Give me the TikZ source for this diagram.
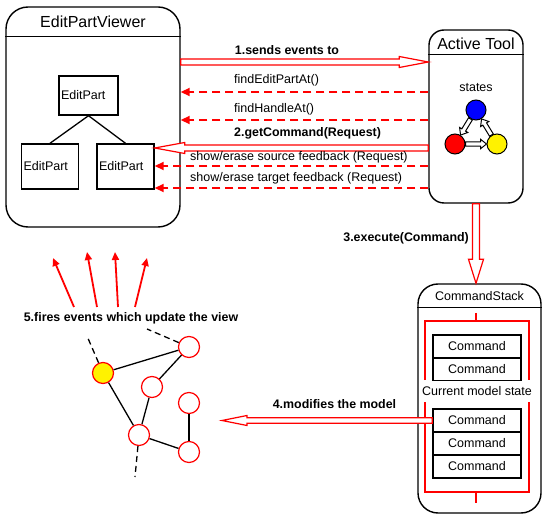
\documentclass[tikz,border=0pt]{standalone}
\usepackage{fontspec}
\setmainfont{Liberation Sans}
\usetikzlibrary{arrows.meta,calc,positioning}
\tikzset{%
	viewbox/.style   = {draw, line width=1.4pt, rounded corners=22pt},
	partbox/.style   = {draw, line width=1.4pt, inner xsep=2pt, text width=53pt, align=left, minimum height=45pt, font=\fontsize{12.5}{14}\selectfont},
	cmdbox/.style    = {draw, line width=1.4pt, minimum width=88pt, minimum height=23pt, font=\fontsize{12.5}{14}\selectfont},
	title/.style     = {inner sep=0pt, font=\fontsize{16}{18}\selectfont},
	txt/.style       = {inner sep=0pt, font=\fontsize{12.5}{14}\selectfont},
	lbl/.style       = {inner sep=0pt, font=\fontsize{12.4}{14}\selectfont\bfseries},
	state/.style     = {draw, circle, line width=1pt, minimum size=20pt, inner sep=0pt},
	gnode/.style     = {draw=red, fill=white, circle, line width=1.2pt, minimum size=21pt, inner sep=0pt},
	edge/.style      = {line width=1.3pt},
	loose/.style     = {line width=1.3pt, dash pattern=on 6pt off 4pt},
	frame/.style     = {red, line width=1.3pt},
	feed/.style      = {red, line width=1.8pt, dash pattern=on 8pt off 5pt, -{Triangle[length=9pt,width=8pt]}},
	firearrow/.style = {red, line width=1.8pt, -{Triangle[length=8pt,width=7pt]}},
	blockarrow/.style n args={3}{draw=red, fill=white, line width=1.2pt, line join=miter,
		to path={let \p1=($(\tikztotarget)!#1!(\tikztostart)$) in
			($(\tikztostart)!#3!90:(\tikztotarget)$) -- ($(\p1)!#3!90:(\tikztotarget)$)
			-- ($(\p1)!#2!90:(\tikztotarget)$) -- (\tikztotarget)
			-- ($(\p1)!#2!-90:(\tikztotarget)$) -- ($(\p1)!#3!-90:(\tikztotarget)$)
			-- ($(\tikztostart)!#3!-90:(\tikztotarget)$) -- cycle}},
}

\begin{document}
\begin{tikzpicture}[x=1pt,y=-1pt]
		\useasboundingbox (0,0) rectangle (549,521);
		
		% viewer with its edit parts
		\node[viewbox, minimum width=174pt, minimum height=220pt] (vw) at (93,117) {};
		\draw[line width=1.4pt] ([yshift=-30pt]vw.north west) -- ([yshift=-30pt]vw.north east);
		\node[title] (vwt) at ([yshift=-15pt]vw.north) {EditPartViewer};
		
		\node[partbox, text width=55pt, minimum height=39pt] (ep1) at (88.5,95.5) {EditPart};
		\node[partbox] (ep2) at (50,166.5) {EditPart};
		\node[partbox] (ep3) at (125.5,166.5) {EditPart};
		\draw[edge] (ep1.south) -- (ep2.north);
		\draw[edge] (ep1.south) -- (ep3.north);
		
		% active tool
		\node[viewbox, rounded corners=15pt, minimum width=94pt, minimum height=173pt] (tool) at (476,116.5) {};
		\draw[line width=1.4pt] ([yshift=-25pt]tool.north west) -- ([yshift=-25pt]tool.north east);
		\node[title] (toolt) at ([yshift=-14pt]tool.north) {Active Tool};
		
		\node[txt] (st) at (476,88) {states};
		\node[state, fill=blue] (sb) at (476,110) {};
		\node[state, fill=red] (sr) at (455,144) {};
		\node[state, fill=yellow] (sy) at (497,144) {};
		\draw[blockarrow={6pt}{4.8pt}{2.2pt}, draw=black, line width=1pt] (sb.238) to (sr.58);
		\draw[blockarrow={6pt}{4.8pt}{2.2pt}, draw=black, line width=1pt] (sr.east) to (sy.west);
		\draw[blockarrow={6pt}{4.8pt}{2.2pt}, draw=black, line width=1pt] (sy.122) to (sb.302);
		
		% command stack
		\node[viewbox, rounded corners=20pt, minimum width=123pt, minimum height=229pt] (stack) at (479.5,398.5) {};
		\draw[line width=1.4pt] ([yshift=-24pt]stack.north west) -- ([yshift=-24pt]stack.north east);
		\node[txt] (stackt) at ([yshift=-13pt]stack.north) {CommandStack};
		
		\draw[frame] (425,380) -- (425,321) -- (529,321) -- (529,380);
		\draw[frame] (425,402) -- (425,492) -- (529,492) -- (529,402);
		\draw[frame] (476,313) -- (476,321);
		\draw[frame] (476,492) -- (476,503);
		
		\foreach \y [count=\i] in {346.5,369,420.5,443.5,466.5} \node[cmdbox] (cmd\i) at (477,\y) {Command};
		\node[txt] (cur) at (477,391) {Current model state};
		
		% messages
		\foreach \n/\y in {r1/62,r2/92,r3/120,r4/148,r5/166,r6/188} \coordinate (\n) at (300,\y);
		
		\draw[blockarrow={29pt}{5.5pt}{3pt}] (vw.east |- r1) to (tool.west |- r1);
		\draw[feed] (tool.west |- r2) -- (vw.east |- r2);
		\draw[feed] (tool.west |- r3) -- (vw.east |- r3);
		\draw[blockarrow={30pt}{5.5pt}{3pt}] (tool.west |- r4) to (ep3.east |- r4);
		\draw[feed] (tool.west |- r5) -- (ep3.east |- r5);
		\draw[feed] (tool.west |- r6) -- (ep3.east |- r6);
		\draw[blockarrow={24pt}{7.5pt}{3.5pt}] (tool.south) to (tool.south |- stack.north);
		\coordinate (m4) at (222,0);
		\draw[blockarrow={25pt}{5pt}{2.7pt}] (cmd3.west) to (cmd3.west -| m4);
		
		\node[lbl] (l1) at (287,50) {1.sends events to};
		\node[txt, anchor=west] (l2) at (234,80) {findEditPartAt()};
		\node[txt, anchor=west] (l3) at (234,109) {findHandleAt()};
		\node[lbl, anchor=west] (l4) at (234,133) {2.getCommand(Request)};
		\node[txt, anchor=west] (l5) at (190,157) {show/erase source feedback (Request)};
		\node[txt, anchor=west] (l6) at (190,178) {show/erase target feedback (Request)};
		\node[lbl, anchor=east] (l7) at (469,238) {3.execute(Command)};
		\node[lbl] (l8) at (334.5,404) {4.modifies the model};
		
		% model graph
		\node[lbl] (fire) at (131,318) {5.fires events which update the view};
		\foreach \a/\b/\c [count=\i] in {74/53/258,97/87/252,118/115/252,135/147/258} {
			\coordinate (fs\i) at (\a,307);
			\coordinate (ft\i) at (\b,\c);
			\draw[firearrow] (fs\i) -- (ft\i);
		}
		
		\node[gnode, fill=yellow] (g0) at (103,373) {};
		\node[gnode] (g1) at (189,347) {};
		\node[gnode] (g2) at (152,387) {};
		\node[gnode] (g3) at (189,403) {};
		\node[gnode] (g4) at (139,435) {};
		\node[gnode] (g5) at (189,452) {};
		\draw[edge] (g0) -- (g1);
		\draw[edge] (g1) -- (g2);
		\draw[edge] (g0) -- (g4);
		\draw[edge] (g2) -- (g4);
		\draw[edge] (g4) -- (g5);
		\draw[edge] (g3) -- (g5);
		
		\coordinate (d0) at (87,336);
		\coordinate (d1) at (147,329);
		\coordinate (d4) at (135,477);
		\draw[loose] (g0) -- (d0);
		\draw[loose] (g1) -- (d1);
		\draw[loose] (g4) -- (d4);
		
\end{tikzpicture}
\end{document}
